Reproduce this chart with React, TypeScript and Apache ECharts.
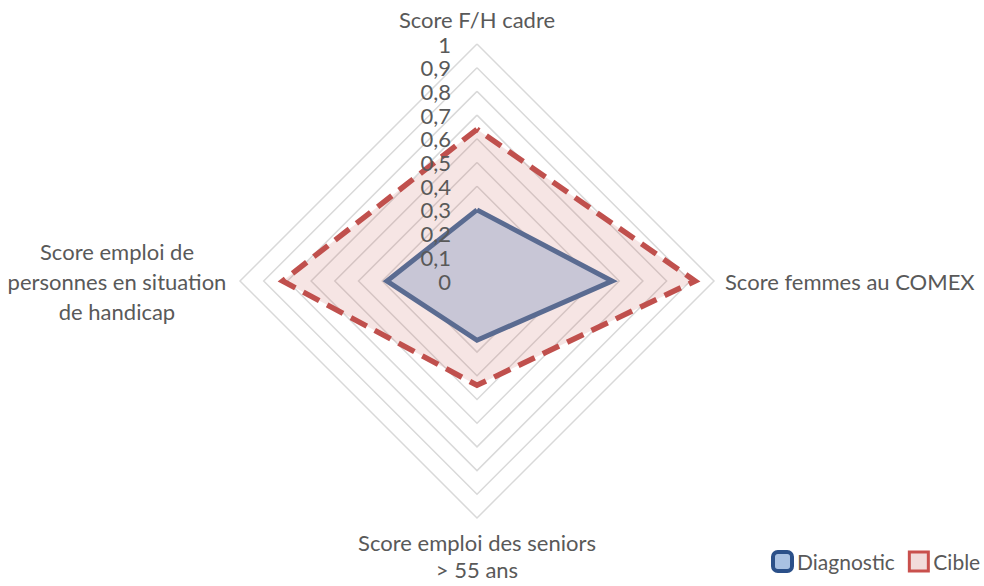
import React, { useEffect, useRef } from "react";
import * as echarts from "echarts";

const indicatorNames = [
  "Score F/H cadre",
  "Score emploi de\npersonnes en situation\nde handicap",
  "Score emploi des seniors\n> 55 ans",
  "Score femmes au COMEX",
];
const diagnosticValues = [0.3, 0.38, 0.25, 0.57];
const cibleValues = [0.64, 0.82, 0.44, 0.92];
const seriesNames = ["Diagnostic", "Cible"];

const FONT = "Lato";
const TEXT = "#595959";

export default function App() {
  const ref = useRef<HTMLDivElement>(null);
  useEffect(() => {
    if (!ref.current) return;
    const chart = echarts.init(ref.current, undefined, { renderer: "svg" });
    chart.setOption({
      animation: false,
      backgroundColor: "#ffffff",
      textStyle: { fontFamily: FONT },
      legend: {
        left: 766,
        top: 545,
        width: 400,
        orient: "horizontal",
        itemWidth: 19,
        itemHeight: 19,
        itemGap: 13,
        textStyle: { color: TEXT, fontSize: 21, fontFamily: FONT },
        data: [
          {
            name: seriesNames[0],
            icon: "roundRect",
            itemStyle: { color: "#a9c1e2", borderColor: "#2b5089", borderWidth: 4 },
          },
          {
            name: seriesNames[1],
            icon: "rect",
            itemStyle: { color: "#f2dcdb", borderColor: "#c9504d", borderWidth: 3 },
          },
        ],
      },
      radar: {
        center: [477, 281],
        radius: 237,
        startAngle: 90,
        splitNumber: 10,
        shape: "polygon",
        nameGap: 11,
        indicator: indicatorNames.map((n) => ({ name: n, min: 0, max: 1 })),
        axisName: {
          color: TEXT,
          fontSize: 22,
          fontFamily: FONT,
          lineHeight: 28,
          formatter: (name: string) =>
            name.indexOf("handicap") >= 0
              ? `{left|${name}}`
              : name.indexOf("seniors") >= 0
              ? `{bot|${name}}`
              : name,
          rich: {
            left: {
              color: TEXT,
              fontSize: 22,
              fontFamily: FONT,
              lineHeight: 30,
              width: 224,
              align: "center",
            },
            bot: {
              color: TEXT,
              fontSize: 22,
              fontFamily: FONT,
              lineHeight: 27,
            },
          },
        },
        axisLine: { show: false },
        axisTick: { show: false },
        axisLabel: { show: false },
        splitArea: { show: false },
        splitLine: { lineStyle: { color: "#d9d9d9", width: 1.5 } },
      },
      grid: { left: 476, top: 44, height: 237, width: 2 },
      xAxis: { type: "value", show: false },
      yAxis: {
        type: "value",
        min: 0,
        max: 1,
        interval: 0.1,
        z: 10,
        axisLine: { show: false },
        axisTick: { show: false },
        splitLine: { show: false },
        axisLabel: {
          margin: 25,
          color: TEXT,
          fontSize: 22,
          lineHeight: 22,
          fontFamily: FONT,
          formatter: (v: number) => String(Math.round(v * 10) / 10).replace(".", ","),
        },
      },
      series: [
        {
          name: seriesNames[1],
          type: "radar",
          z: 2,
          symbol: "none",
          lineStyle: { width: 0 },
          areaStyle: { color: "rgba(192,80,77,0.15)", opacity: 1 },
          itemStyle: { color: "#c0504d" },
          data: [{ name: seriesNames[1], value: cibleValues }],
        },
        {
          name: seriesNames[0],
          type: "radar",
          z: 3,
          symbol: "none",
          lineStyle: { width: 0 },
          areaStyle: { color: "#c8c6d6", opacity: 1 },
          itemStyle: { color: "#5a6b91" },
          data: [{ name: seriesNames[0], value: diagnosticValues }],
        },
        {
          name: seriesNames[1],
          type: "radar",
          z: 4,
          symbol: "none",
          lineStyle: { color: "#c0504d", width: 5.5, type: [18, 9], join: "miter" },
          itemStyle: { color: "#c0504d" },
          data: [{ name: seriesNames[1], value: cibleValues }],
        },
        {
          name: seriesNames[0],
          type: "radar",
          z: 5,
          symbol: "none",
          lineStyle: { color: "#5a6b91", width: 5, type: "solid", join: "miter" },
          itemStyle: { color: "#5a6b91" },
          data: [{ name: seriesNames[0], value: diagnosticValues }],
        },
      ],
    });
    return () => chart.dispose();
  }, []);
  return (
    <div
      ref={ref}
      style={{ position: "fixed", left: 0, top: 0, width: 984, height: 586 }}
    />
  );
}
